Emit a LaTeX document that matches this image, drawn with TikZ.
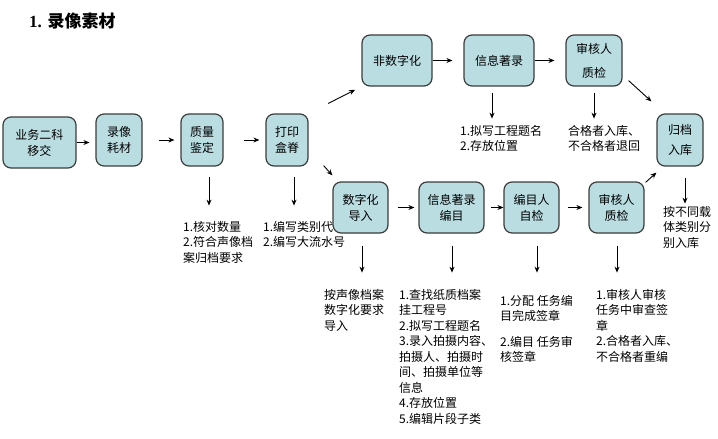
\documentclass[tikz,border=0pt]{standalone}
\usepackage{fontspec}
\setmainfont{Liberation Serif}
\newfontfamily\cjk{Noto Sans CJK SC}
\usepackage{xcolor}
\usepackage{tikz}
\usetikzlibrary{arrows.meta}
\definecolor{boxfill}{HTML}{BADDE2}
\definecolor{boxline}{HTML}{3C3C3C}
\tikzset{
  stage/.style={
    draw=boxline,
    line width=1.2pt,
    fill=boxfill,
    rounded corners=8pt,
    align=center,
    inner sep=0pt,
    font=\cjk\fontsize{12}{16}\selectfont
  },
  note/.style={
    anchor=north west,
    align=left,
    inner sep=0pt,
    font=\cjk\fontsize{12}{15.5}\selectfont
  },
  flow/.style={
    -{Stealth[length=6pt,width=5pt]},
    line width=0.9pt,
    color=black
  }
}
\begin{document}
\begin{tikzpicture}[x=1pt, y=-1pt]
  \useasboundingbox (0,0) rectangle (718,439);

  % Title
  \node[anchor=west, inner sep=0pt, font=\bfseries\fontsize{17}{20}\selectfont] (title) at (29,21) {1. {\cjk 录像素材}};

  % First row
  \node[stage, minimum width=73pt, minimum height=51pt] (biz) at (39.5,142.5) {业务二科\\移交};
  \node[stage, minimum width=46pt, minimum height=52pt] (tape) at (119,140) {录像\\耗材};
  \node[stage, minimum width=42pt, minimum height=52pt] (qual) at (202,140) {质量\\鉴定};
  \node[stage, minimum width=42pt, minimum height=52pt] (print) at (287,140) {打印\\盒脊};

  % Upper branch
  \node[stage, minimum width=70pt, minimum height=51pt] (nondig) at (397,60.5) {非数字化};
  \node[stage, minimum width=70pt, minimum height=51pt] (info) at (499,60.5) {信息著录};
  \node[stage, minimum width=56pt, minimum height=51pt] (audit1) at (594,60.5) {审核人\\[8pt]质检};
  \node[stage, minimum width=46pt, minimum height=52pt] (archive) at (680,140) {归档\\[4pt]入库};

  % Notes
  \node[note] (qualnote) at (183,221) {1.核对数量\\2.符合声像档\\案归档要求};
  \node[note] (printnote) at (263,221) {1.编写类别代号\\2.编写大流水号};
  \node[note] (infonote) at (460,125) {1.拟写工程题名\\2.存放位置};
  \node[note] (audit1note) at (568,125) {合格者入库、\\不合格者退回};
  \node[note] (archivenote) at (663,206) {按不同载\\体类别分\\别入库};

  % Lower branch
  \node[stage, minimum width=55pt, minimum height=51pt] (dig) at (360.5,207.5) {数字化\\导入};
  \node[stage, minimum width=65pt, minimum height=51pt] (catalog) at (451.5,207.5) {信息著录\\编目};
  \node[stage, minimum width=55pt, minimum height=51pt] (self) at (531.5,207.5) {编目人\\自检};
  \node[stage, minimum width=55pt, minimum height=51pt] (audit2) at (616.5,207.5) {审核人\\质检};

  \node[note] (dignote) at (324,289) {按声像档案\\数字化要求\\导入};
  \node[note] (catnote) at (399,289) {1.查找纸质档案\\挂工程号\\2.拟写工程题名\\3.录入拍摄内容、\\拍摄人、拍摄时\\间、拍摄单位等\\信息\\4.存放位置\\5.编辑片段子类};
  \node[note] (selfnote) at (500,295) {1.分配 任务编\\目完成签章\\[10pt]2.编目 任务审\\核签章};
  \node[note] (audit2note) at (596,289) {1.审核人审核\\任务中审查签\\章\\2.合格者入库、\\不合格者重编};

  % Arrows along the rows
  \draw[flow, shorten >=6pt] (biz.east) -- (biz.east -| tape.west);
  \draw[flow, shorten <=16pt, shorten >=6pt] (tape) -- (qual);
  \draw[flow, shorten <=20pt, shorten >=6pt] (qual) -- (print);
  \draw[flow, shorten >=11pt] (nondig) -- (info);
  \draw[flow, shorten >=11pt] (info) -- (audit1);
  \draw[flow, shorten <=9pt, shorten >=4pt] (dig) -- (catalog);
  \draw[flow, shorten <=6pt] (catalog) -- (self);
  \draw[flow, shorten <=8pt, shorten >=6pt] (self) -- (audit2);

  % Branching arrows
  \draw[flow, shorten <=22pt, shorten >=7pt] (print.north east) -- (nondig.south west);
  \draw[flow] ([shift={(15,-1)}]print.south east) -- ([shift={(0,-6)}]dig.north west);
  \draw[flow] ([shift={(6,-6)}]audit1.south east) -- ([shift={(-5,-12)}]archive.north west);
  \draw[flow] ([shift={(1,1)}]audit2.north east) -- ([shift={(0,6)}]archive.south west);

  % Arrows down to the notes
  \draw[flow] (qual.south) ++(7,10) -- ++(0,29);
  \draw[flow] (print.south) ++(7,10) -- ++(0,29);
  \draw[flow] (info.south) ++(-7,6) -- ++(0,26);
  \draw[flow] (audit1.south) ++(0,6) -- ++(0,26);
  \draw[flow] (archive.south) ++(5,11) -- ++(0,26);
  \draw[flow] (dig.south) ++(1.5,12) -- ++(0,27);
  \draw[flow] (catalog.south) ++(0.5,12) -- ++(0,27);
  \draw[flow] (self.south) ++(5.5,12) -- ++(0,27);
  \draw[flow] (audit2.south) ++(0.5,12) -- ++(0,27);
\end{tikzpicture}
\end{document}
